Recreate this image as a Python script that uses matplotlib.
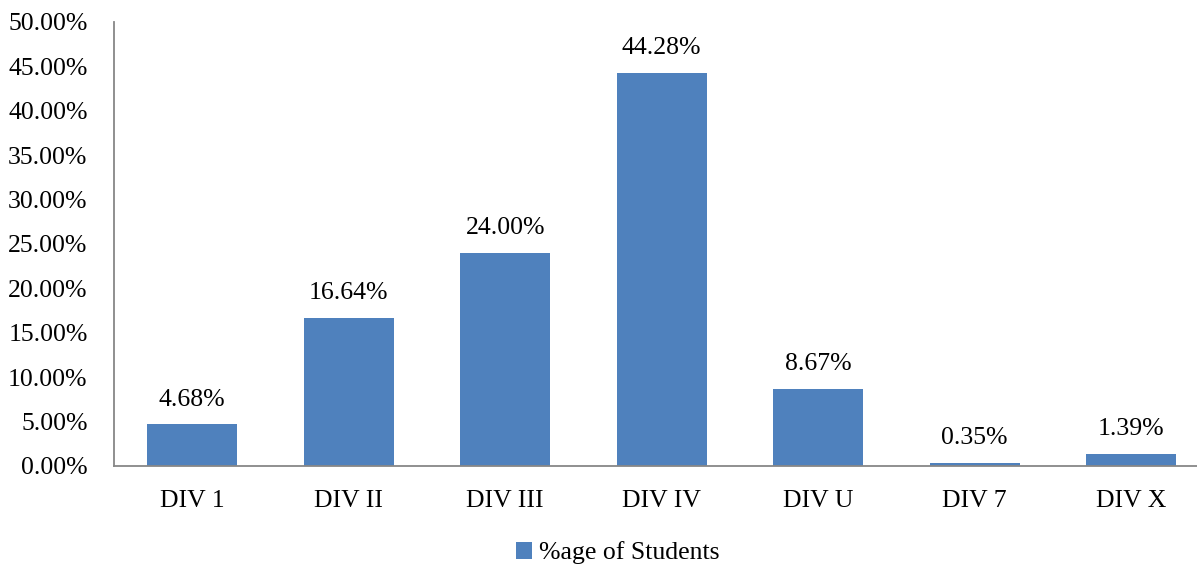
import matplotlib
matplotlib.use("Agg")
import matplotlib.pyplot as plt
from matplotlib.ticker import FuncFormatter, MultipleLocator

categories = ["DIV 1", "DIV II", "DIV III", "DIV IV", "DIV U", "DIV 7", "DIV X"]
values = [4.68, 16.64, 24.00, 44.28, 8.67, 0.35, 1.39]
series_name = "%age of Students"

plt.rcParams['font.family'] = ['Liberation Serif', 'DejaVu Serif']
color = "#4F81BD"

fig = plt.figure(figsize=(11.97, 5.65), dpi=100)
ax = fig.add_axes([114/1197, 1-466/565, 1095.5/1197, (466-22)/565])
x = list(range(len(categories)))
bars = ax.bar(x, values, width=0.575, color=color, label=series_name)
ax.set_xlim(-0.5, len(categories)-0.5)
ax.set_ylim(0, 50)
ax.yaxis.set_major_locator(MultipleLocator(5))
ax.yaxis.set_major_formatter(FuncFormatter(lambda v, p: f"{v:.2f}%"))
ax.set_xticks(x)
ax.set_xticklabels(categories)
ax.tick_params(axis='both', length=0, labelsize=18.5, colors='black')
ax.tick_params(axis='y', pad=19)
ax.tick_params(axis='x', pad=17)
for s in ['top', 'right']:
    ax.spines[s].set_visible(False)
for s in ['left', 'bottom']:
    ax.spines[s].set_color('#878787')
    ax.spines[s].set_linewidth(1.3)

for xi, v in zip(x, values):
    ax.annotate(f"{v:.2f}%", (xi, v), xytext=(0, 10), textcoords='offset points',
                ha='center', va='bottom', fontsize=18.5)

handles, labels = ax.get_legend_handles_labels()
fig.legend(handles, labels, loc='center', bbox_to_anchor=(618/1197, 1-553/565),
           frameon=False, fontsize=18.5, handlelength=0.6, handleheight=0.6,
           handletextpad=0.3)

fig.savefig("out.png", dpi=100)
